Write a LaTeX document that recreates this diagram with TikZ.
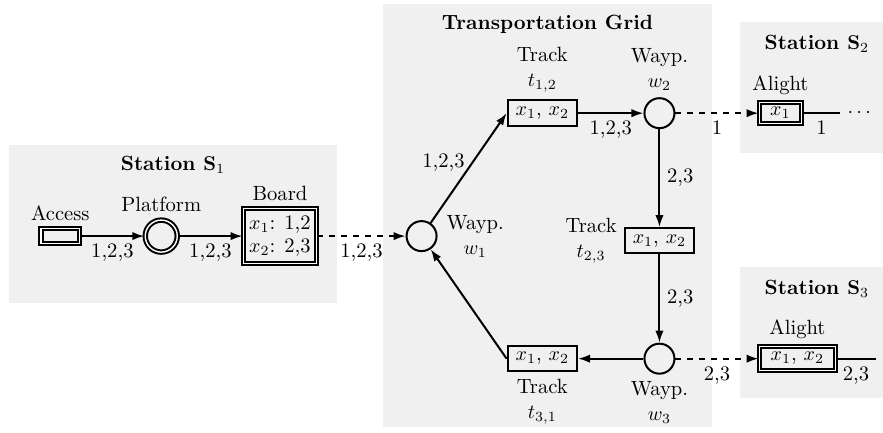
\documentclass[tikz,border=0pt]{standalone}
\usepackage{tikz}
\usetikzlibrary{positioning, arrows.meta}

\newcommand{\figfont}{\fontsize{10.3}{12.4}\selectfont}

\begin{document}
\begin{tikzpicture}[
        % node distance: vertical=1.55cm, horizontal=1.12cm
        node distance=1.55cm and 1.12cm,
        every node/.style={font=\figfont},
        zone/.style={fill=gray!12, inner sep=0pt, outer sep=0pt, anchor=north west},
        zonetitle/.style={font=\figfont\bfseries},
        waypoint/.style={draw, line width=1pt, circle, minimum size=15pt, inner sep=0pt},
        platformnode/.style={waypoint, double, double distance=0.7pt, minimum size=16pt},
        track/.style={draw, line width=1pt, minimum width=34.7pt, minimum height=12.7pt, inner sep=1pt},
        gate/.style={draw, line width=1pt, double, double distance=0.7pt, inner sep=1pt},
        caption/.style={align=center},
        arrow/.style={-{Latex[length=6pt, width=4.2pt]}, line width=1pt},
        feed/.style={arrow, dashed}
    ]
    \useasboundingbox (0,0) rectangle (15.517,7.609);

    % --- Zones ---
    \node[zone, minimum width=5.76cm, minimum height=2.78cm] (S1zone) at (0.16,5.06) {};
    \node[zone, minimum width=5.78cm, minimum height=7.43cm] (gridzone) at (6.73,7.54) {};
    \node[zone, minimum width=2.71cm, minimum height=2.30cm] (S2zone) at (13.00,7.22) {};
    \node[zone, minimum width=2.71cm, minimum height=2.30cm] (S3zone) at (13.00,2.92) {};

    \node[zonetitle, below=2pt of S1zone.north] (S1title) {Station $\mathbf{S}_1$};
    \node[zonetitle, below=2pt of gridzone.north] (gridtitle) {Transportation Grid};
    \node[zonetitle, below=3pt of S2zone.north] (S2title) {Station $\mathbf{S}_2$};
    \node[zonetitle, below=3pt of S3zone.north] (S3title) {Station $\mathbf{S}_3$};

    % --- Station S1 ---
    \node[gate, minimum width=19.2pt, minimum height=7.4pt, inner sep=0pt] (access) at (1.06,3.46) {};
    \node[platformnode, right=of access] (platform) {};
    \node[gate, right=1.13cm of platform, minimum width=36.4pt, minimum height=27.4pt, align=center] (board) {$x_1$: 1,2\\[-1pt]$x_2$: 2,3};

    % --- Grid ---
    \node[waypoint, right=1.55cm of board] (w1) {};
    \node[track] (t12) at (9.53,5.62) {$x_1$, $x_2$};
    \node[waypoint, right=1.15cm of t12] (w2) {};
    \node[track, below=1.72cm of w2] (t23) {$x_1$, $x_2$};
    \node[waypoint, below=of t23] (w3) {};
    \node[track, left=1.15cm of w3] (t31) {$x_1$, $x_2$};

    % --- Stations S2 and S3 ---
    \node[gate, right=1.46cm of w2, minimum width=20.9pt, minimum height=10.4pt] (alight2) {$x_1$};
    \node[right=0.67cm of alight2] (dots) {$\cdots$};
    \node[gate, right=1.46cm of w3, minimum width=37.9pt, minimum height=12pt] (alight3) {$x_1$, $x_2$};
    \coordinate[right=0.69cm of alight3] (exit3);

    % --- Captions ---
    \node[above=0pt of access] (accesslab) {Access};
    \node[above=0pt of platform] (platformlab) {Platform};
    \node[above=0pt of board] (boardlab) {Board};
    \node[caption, right=1pt of w1] (w1lab) {Wayp.\\$w_1$};
    \node[caption, above=0pt of t12] (t12lab) {Track\\$t_{1,2}$};
    \node[caption, above=0pt of w2] (w2lab) {Wayp.\\$w_2$};
    \node[caption, left=0pt of t23] (t23lab) {Track\\$t_{2,3}$};
    \node[caption, below=0pt of w3] (w3lab) {Wayp.\\$w_3$};
    \node[caption, below=0pt of t31] (t31lab) {Track\\$t_{3,1}$};
    \node[above=0pt of alight2] (alight2lab) {Alight};
    \node[above=0pt of alight3] (alight3lab) {Alight};

    % --- Arrows ---
    \draw[arrow] (access) -- node[below] (e1) {1,2,3} (platform);
    \draw[arrow] (platform) -- node[below] (e2) {1,2,3} (board);
    \draw[feed] (board) -- node[below] (e3) {1,2,3} (w1);

    \draw[arrow] (w1) -- node[left, pos=0.55] (e4) {1,2,3} (t12.west);
    \draw[arrow] (t12) -- node[below] (e5) {1,2,3} (w2);
    \draw[arrow] (w2) -- node[right] (e6) {2,3} (t23);
    \draw[arrow] (t23) -- node[right] (e7) {2,3} (w3);
    \draw[arrow] (w3) -- (t31);
    \draw[arrow] (t31.west) -- (w1);

    % Exits to the other stations
    \draw[feed] (w2) -- node[below] (e8) {1} (alight2);
    \draw[line width=1pt] (alight2) -- node[below] (e9) {1} (dots);
    \draw[feed] (w3) -- node[below] (e10) {2,3} (alight3);
    \draw[line width=1pt] (alight3) -- node[below] (e11) {2,3} (exit3);

\end{tikzpicture}
\end{document}
